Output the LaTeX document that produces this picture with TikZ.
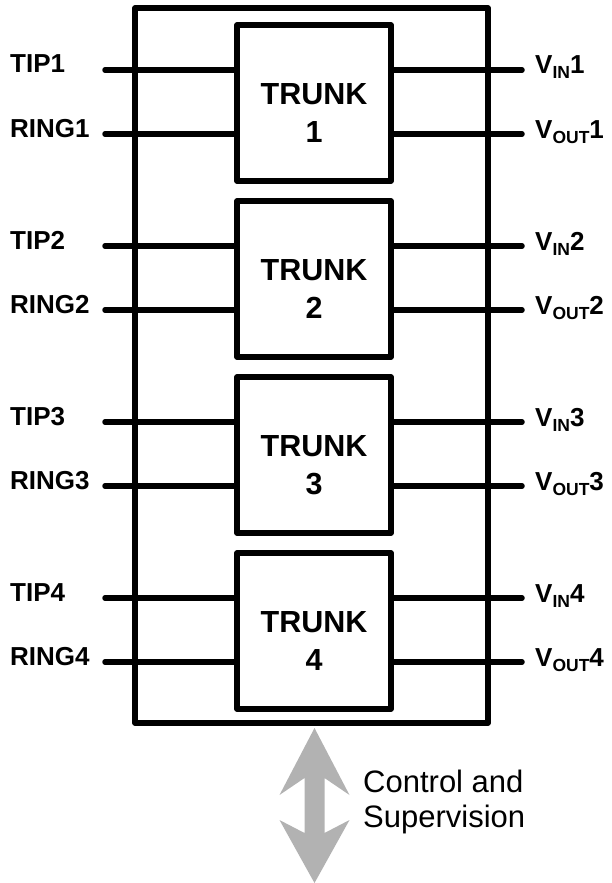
\documentclass[tikz,border=0pt]{standalone}
\usepackage{fontspec}
\setmainfont{Liberation Sans}
\usetikzlibrary{calc}

\begin{document}
\begin{tikzpicture}[x=1pt,y=-1pt,
    wire/.style={line width=5.5pt, line cap=round},
    box/.style={draw, line width=5.5pt, line join=round, inner sep=0pt},
    trunkbox/.style={box, minimum width=154pt, minimum height=156pt},
    trunktext/.style={font=\fontsize{30.5}{38}\selectfont\bfseries, align=center, inner sep=0pt},
    pinlabel/.style={font=\fontsize{26}{26}\selectfont\bfseries, inner sep=0pt, anchor=base west}]
    \useasboundingbox (0,0) rectangle (611,883);

    \node[box, minimum width=353pt, minimum height=715pt] (chip) at (311.5,365.5) {};

    \foreach \k in {1,...,4} {
        \pgfmathsetmacro{\yc}{103+176*(\k-1)}
        \node[trunkbox] (trunk\k) at (314,\yc) {};
        \node[trunktext] (name\k) at (314,\yc+10) {TRUNK\\\k};

        \coordinate (tip\k) at (105,\yc-33);
        \coordinate (ring\k) at (105,\yc+31);
        \coordinate (vin\k) at (522,\yc-33);
        \coordinate (vout\k) at (522,\yc+31);

        \draw[wire] (tip\k) -- (tip\k -| trunk\k.west);
        \draw[wire] (ring\k) -- (ring\k -| trunk\k.west);
        \draw[wire] (vin\k) -- (vin\k -| trunk\k.east);
        \draw[wire] (vout\k) -- (vout\k -| trunk\k.east);

        \node[pinlabel] (tiplbl\k) at ($(tip\k)+(-95,3)$) {TIP\k};
        \node[pinlabel] (ringlbl\k) at ($(ring\k)+(-95,3)$) {RING\k};
        \node[pinlabel] (vinlbl\k) at ($(vin\k)+(13,4)$)
            {V\raisebox{-5pt}{\fontsize{17.5}{17.5}\selectfont IN}\k};
        \node[pinlabel] (voutlbl\k) at ($(vout\k)+(13,4)$)
            {V\raisebox{-5pt}{\fontsize{17.5}{17.5}\selectfont OUT}\k};
    }

    % control bus
    \fill[black!30] (314.5,728) -- (349.5,795) -- (324.5,778) -- (324.5,833)
        -- (349.5,820) -- (314.5,883) -- (279.5,820) -- (304.5,833)
        -- (304.5,778) -- (279.5,795) -- cycle;
    \node[font=\fontsize{31}{35}\selectfont, align=left, anchor=west, inner sep=0pt]
        (ctrl) at (363,802) {Control and\\Supervision};
\end{tikzpicture}
\end{document}
